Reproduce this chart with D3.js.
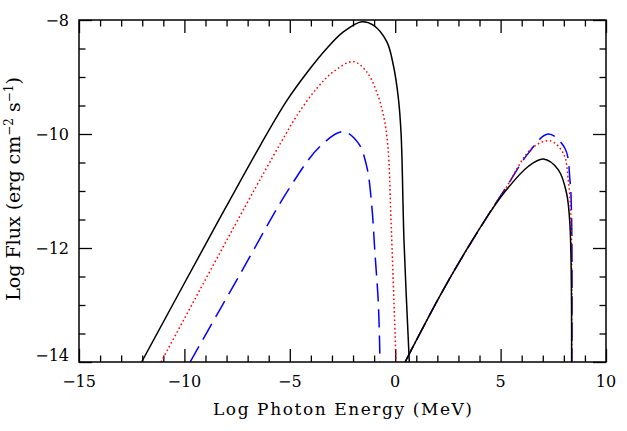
<!DOCTYPE html>
<html>
<head>
<meta charset="utf-8">
<script src="https://d3js.org/d3.v7.min.js"></script>
<style>
body { margin: 0; background: #fff; }
svg text { font-family: "DejaVu Serif", serif; fill: #000; }
</style>
</head>
<body>
<svg id="chart" width="627" height="431"></svg>
<script>
// log energy (MeV) / log flux readings, one pair of arrays per hump
var blackLowE  = [-12.03, -8.5, -6.37, -5.15, -4.20, -3.25, -2.46, -1.59, -1.04, -0.40, -0.09, 0.15, 0.28, 0.42, 0.67];
var blackLowF  = [-14, -11.6, -10.18, -9.42, -8.93, -8.50, -8.21, -8.03, -8.09, -8.38, -8.79, -9.37, -10.0, -11.9, -14];
var redLowE    = [-11.11, -7.13, -5.42, -4.67, -3.72, -2.94, -1.99, -1.35, -0.88, -0.56, -0.35, -0.20, 0.04];
var redLowF    = [-14, -11.28, -10.15, -9.68, -9.20, -8.91, -8.73, -8.91, -9.26, -9.67, -10.2, -11.5, -14];
var blueLowE   = [-9.73, -7.33, -5.02, -3.57, -2.46, -1.75, -1.35, -1.12, -0.96, -0.80, -0.72];
var blueLowF   = [-14, -12.44, -10.95, -10.22, -9.96, -10.16, -10.57, -11.22, -12.09, -12.97, -14];

var blackHighE = [0.47, 2.36, 4.26, 5.21, 6.31, 7.03, 7.74, 8.13, 8.29, 8.37];
var blackHighF = [-14, -12.68, -11.51, -11.01, -10.57, -10.44, -10.63, -11.04, -11.6, -14];
var redHighE   = [0.47, 2.36, 4.26, 5.24, 6.48, 7.35, 7.98, 8.21, 8.34, 8.37];
var redHighF   = [-14, -12.68, -11.51, -10.95, -10.25, -10.12, -10.34, -10.81, -11.51, -14];
var blueHighE  = [0.47, 2.36, 4.26, 5.24, 6.31, 7.26, 8.05, 8.29, 8.37, 8.38];
var blueHighF  = [-14, -12.68, -11.51, -10.95, -10.34, -10.0, -10.25, -10.81, -11.51, -14];

var xMajor = [-15, -10, -5, 0, 5, 10];
var yMajor = [-14, -12, -10, -8];

var margin = {left: 79, right: 21, top: 20, bottom: 69},
    width = 627 - margin.left - margin.right,
    height = 431 - margin.top - margin.bottom;

var svg = d3.select("#chart");
var g = svg.append("g").attr("transform", "translate(" + margin.left + "," + margin.top + ")");

var x = d3.scaleLinear().domain([-15, 10]).range([0, width]);
var y = d3.scaleLinear().domain([-14, -8]).range([height, 0]);

var xMinor = d3.range(-15, 10.01, 1).filter(function(v) { return xMajor.indexOf(v) < 0; });
var yMinor = d3.range(-14, -7.99, 0.5).filter(function(v) { return yMajor.indexOf(v) < 0; });

function ticks(axis, vals, size, tr) {
  var a = g.append("g").attr("transform", tr)
    .call(axis.tickValues(vals).tickSize(size).tickFormat(""));
  a.select(".domain").remove();
  a.selectAll("line").attr("stroke", "#000").attr("stroke-width", 1.3);
  return a;
}
// ticks point inward on all four sides
ticks(d3.axisBottom(x), xMajor, -13, "translate(0," + height + ")");
ticks(d3.axisBottom(x), xMinor, -6.5, "translate(0," + height + ")");
ticks(d3.axisTop(x), xMajor, -13, "translate(0,0)");
ticks(d3.axisTop(x), xMinor, -6.5, "translate(0,0)");
ticks(d3.axisLeft(y), yMajor, -13, "translate(0,0)");
ticks(d3.axisLeft(y), yMinor, -6.5, "translate(0,0)");
ticks(d3.axisRight(y), yMajor, -13, "translate(" + width + ",0)");
ticks(d3.axisRight(y), yMinor, -6.5, "translate(" + width + ",0)");

function minus(v) { return v < 0 ? "\u2212" + Math.abs(v) : String(v); }

g.selectAll(".xlab").data(xMajor).enter().append("text")
  .attr("x", function(d) { return x(d); })
  .attr("y", height + 25)
  .attr("text-anchor", "middle")
  .style("font-size", "16px")
  .text(minus);

g.selectAll(".ylab").data(yMajor).enter().append("text")
  .attr("x", -10)
  .attr("y", function(d) { return y(d) + (d === -14 ? -7 : 0); })
  .attr("dy", "0.35em")
  .attr("text-anchor", "end")
  .style("font-size", "16px")
  .text(minus);

g.append("defs").append("clipPath").attr("id", "clip")
  .append("rect").attr("width", width).attr("height", height);

var line = d3.line()
  .x(function(d) { return x(d[0]); })
  .y(function(d) { return y(d[1]); })
  .curve(d3.curveCatmullRom.alpha(0.5));

var series = [
  {color: "#0000ff", dash: "18,8", segs: [[blueLowE, blueLowF], [blueHighE, blueHighF]]},
  {color: "#ff0000", dash: "1.6,2.6", segs: [[redLowE, redLowF], [redHighE, redHighF]]},
  {color: "#000000", dash: null, segs: [[blackLowE, blackLowF], [blackHighE, blackHighF]]}
];

var plot = g.append("g").attr("clip-path", "url(#clip)");
series.forEach(function(s) {
  s.segs.forEach(function(seg) {
    var pts = d3.zip(seg[0], seg[1]);
    plot.append("path")
      .attr("d", line(pts))
      .attr("fill", "none")
      .attr("stroke", s.color)
      .attr("stroke-width", 1.5)
      .attr("stroke-dasharray", s.dash);
  });
});

g.append("rect")
  .attr("width", width).attr("height", height)
  .attr("fill", "none").attr("stroke", "#000").attr("stroke-width", 1.5);

svg.append("text")
  .attr("x", margin.left + width / 2)
  .attr("y", 415)
  .attr("text-anchor", "middle")
  .attr("textLength", 259)
  .style("font-size", "17px")
  .text("Log Photon Energy (MeV)");

var yt = svg.append("text")
  .attr("transform", "translate(20," + (margin.top + height / 2 - 2) + ") rotate(-90)")
  .attr("text-anchor", "middle")
  .style("font-size", "19px");
yt.append("tspan").text("Log Flux (erg cm");
yt.append("tspan").attr("baseline-shift", "super").style("font-size", "12px").text("\u22122");
yt.append("tspan").text(" s");
yt.append("tspan").attr("baseline-shift", "super").style("font-size", "12px").text("\u22121");
yt.append("tspan").text(")");
</script>
</body>
</html>
